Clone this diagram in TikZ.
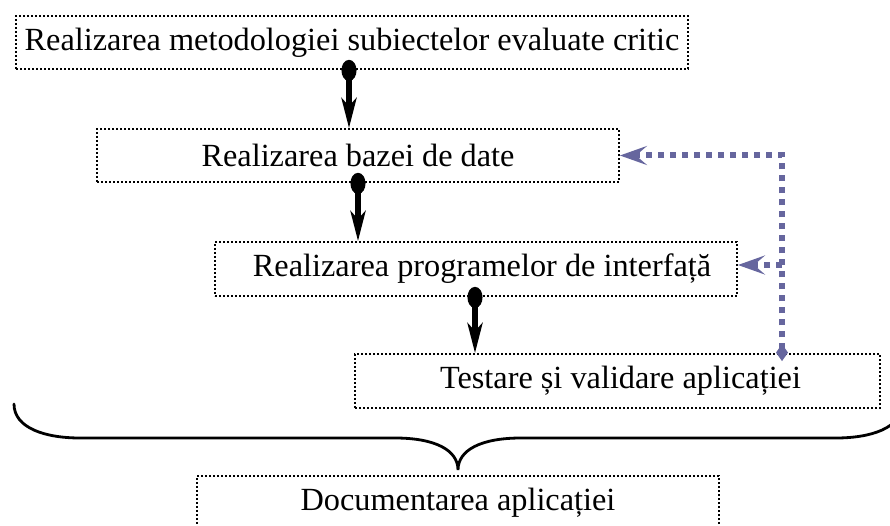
\documentclass[tikz,border=0pt]{standalone}
\usepackage{fontspec}
\setmainfont{Liberation Serif}
\usetikzlibrary{arrows.meta}
\definecolor{fbblue}{RGB}{102,102,158}
\tikzset{
  stage/.style={draw=black, line width=1.8pt, dash pattern=on 1.8pt off 2.2pt,
    rectangle, minimum height=53pt, inner sep=0pt,
    font=\fontsize{32.3}{38}\selectfont, text=black},
  flow/.style={line width=5.2pt, black,
    {Ellipse[length=21pt,width=15pt]}-{Stealth[length=30pt,width=15pt,inset=8pt]}},
  feedback/.style={line width=6pt, fbblue, dash pattern=on 6pt off 6pt,
    -{Stealth[length=27pt,width=19pt,inset=11pt]}},
  brace/.style={line width=2.8pt, black, line cap=round}
}
\begin{document}
\begin{tikzpicture}[x=1pt,y=-1pt]
  \useasboundingbox (0,0) rectangle (890,526);

  % stages
  \node[stage, minimum width=672pt] (s1) at (352,42.5)
    {Realizarea metodologiei subiectelor evaluate critic};
  \node[stage, minimum width=522pt] (s2) at (358,155.5)
    {Realizarea bazei de date};
  \node[stage, minimum width=522pt, minimum height=54pt] (s3) at (476,269)
    {\hspace*{12pt}Realizarea programelor de interfață};
  \node[stage, minimum width=525pt, minimum height=54pt] (s4) at (617.5,381)
    {\hspace*{6pt}Testare și validare aplicației};
  \node[stage, minimum width=522pt, minimum height=54pt] (s5) at (458,503)
    {Documentarea aplicației};

  % main sequence: the knob sits centred on the lower edge of each stage
  \draw[flow] ([xshift=-3pt,yshift=10pt]s1.south) -- ([xshift=-3pt]s1.south |- s2.north);
  \draw[flow] ([yshift=10pt]s2.south) -- (s2.south |- s3.north);
  \draw[flow] ([xshift=-1pt,yshift=10pt]s3.south) -- ([xshift=-1pt]s3.south |- s4.north);

  % feedback loop from testing
  \coordinate (fb) at ([xshift=164.5pt,yshift=-8pt]s4.north);
  \coordinate (s3in) at ([yshift=4pt]s3.east);
  \draw[feedback, {Turned Square[length=17pt,width=12pt]}-{Stealth[length=27pt,width=19pt,inset=11pt]}]
    (fb) |- (s2.east);
  \draw[feedback] (fb |- s3in) -- (s3in);

  % brace grouping the stages
  \draw[brace] (14,404) .. controls (14,428) and (45,438) .. (80,438)
    -- (395,438) .. controls (435,438) and (458,450) .. (458,470)
    .. controls (458,450) and (481,438) .. (521,438)
    -- (836,438) .. controls (871,438) and (902,428) .. (902,404);
\end{tikzpicture}
\end{document}
